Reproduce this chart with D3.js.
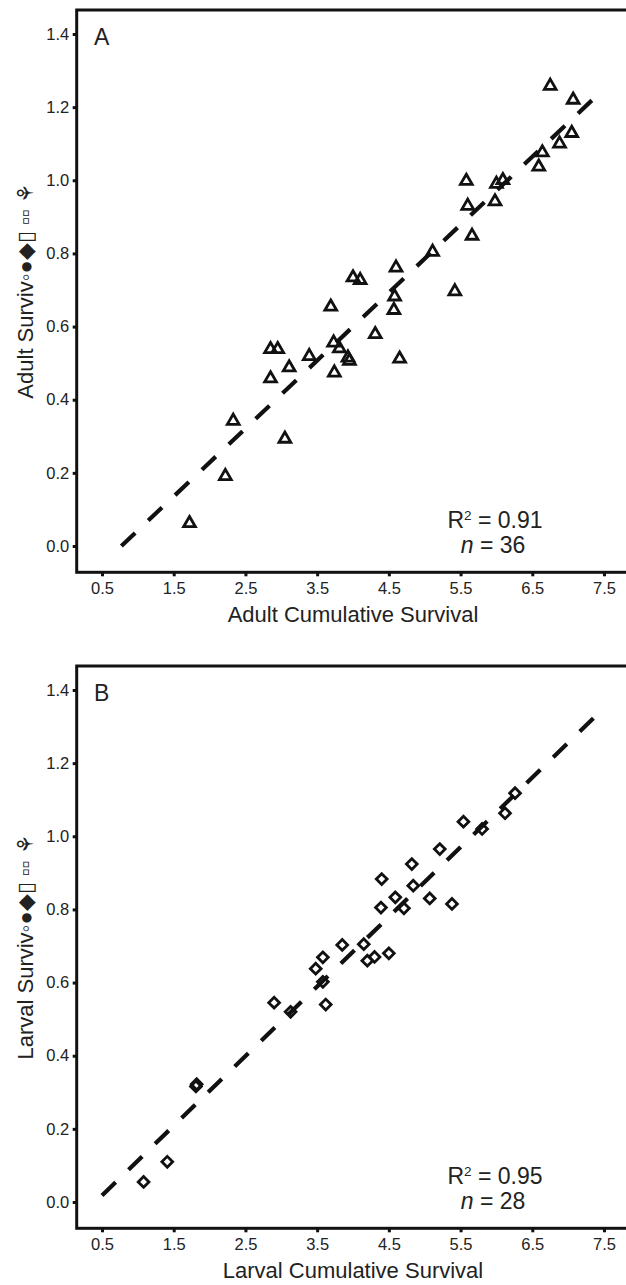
<!DOCTYPE html>
<html>
<head>
<meta charset="utf-8">
<script src="https://cdn.jsdelivr.net/npm/d3@7"></script>
<style>
  body { margin: 0; background: #fff; }
  svg { display: block; font-family: "Liberation Sans", Arial, sans-serif; }
</style>
</head>
<body>
<svg id="fig" width="626" height="1285"></svg>
<script>
// Axis ticks shared by both panels
const xTickValues = [0.5, 1.5, 2.5, 3.5, 4.5, 5.5, 6.5, 7.5];
const yTickValues = [0.0, 0.2, 0.4, 0.6, 0.8, 1.0, 1.2, 1.4];

// Panel A: adults
const adultCumulative = [1.72, 2.22, 2.33, 3.05, 2.85, 2.85, 2.95, 3.11, 3.39, 3.69,
                         3.73, 3.74, 3.81, 3.93, 3.95, 4.00, 4.10, 4.31, 4.60, 4.58,
                         4.57, 4.65, 5.11, 5.42, 5.58, 5.60, 5.66, 5.98, 6.00, 6.09,
                         6.59, 6.64, 6.88, 7.05, 7.07, 6.75];
const adultSurvival   = [0.062, 0.191, 0.342, 0.293, 0.458, 0.538, 0.538, 0.488, 0.519, 0.654,
                         0.556, 0.474, 0.540, 0.515, 0.506, 0.734, 0.727, 0.579, 0.761, 0.682,
                         0.645, 0.512, 0.804, 0.696, 0.998, 0.930, 0.848, 0.942, 0.990, 1.000,
                         1.037, 1.076, 1.100, 1.129, 1.220, 1.258];
const adultFitX = [0.77, 7.50];
const adultFitY = [0.00, 1.25];
const adultStats = ["0.91", "36"];

// Panel B: larvae
const larvalCumulative = [1.08, 1.41, 1.81, 1.82, 2.90, 3.13, 3.62, 3.58, 3.48, 3.58,
                          3.85, 4.15, 4.20, 4.30, 4.50, 4.39, 4.71, 5.07, 5.38, 4.59,
                          4.84, 4.40, 4.82, 5.21, 5.80, 5.54, 6.12, 6.26];
const larvalSurvival   = [0.055, 0.110, 0.316, 0.322, 0.545, 0.520, 0.540, 0.602, 0.638, 0.669,
                          0.703, 0.705, 0.660, 0.670, 0.680, 0.805, 0.803, 0.830, 0.815, 0.833,
                          0.865, 0.883, 0.924, 0.965, 1.020, 1.040, 1.063, 1.118];
const larvalFitX = [0.50, 7.52];
const larvalFitY = [0.018, 1.355];
const larvalStats = ["0.95", "28"];

const svg = d3.select("#fig");
const fmt = d3.format(".1f");

function drawPanel(opts) {
  const top = opts.top;
  const frame = { left: 76.7, top: top + 10, right: 680, bottom: top + 572.3 };

  const x = d3.scaleLinear().domain([0.5, 7.5]).range([102, 604]);
  const y = d3.scaleLinear().domain([0, 1.4]).range([top + 546, top + 34]);

  const g = svg.append("g");

  // x axis ticks and labels
  const xAxis = d3.axisBottom(x).tickValues(xTickValues).tickFormat(fmt)
    .tickSize(4).tickPadding(5.5);
  const gx = g.append("g").attr("transform", `translate(0,${frame.bottom})`).call(xAxis);
  gx.select(".domain").remove();
  gx.selectAll(".tick line").attr("stroke", "#111").attr("stroke-width", 3);
  gx.selectAll(".tick text").attr("font-size", 16.5).attr("fill", "#222")
    .attr("font-family", "Liberation Sans, Arial, sans-serif");

  // y axis ticks and labels
  const yAxis = d3.axisLeft(y).tickValues(yTickValues).tickFormat(fmt)
    .tickSize(4).tickPadding(3.5);
  const gy = g.append("g").attr("transform", `translate(${frame.left},0)`).call(yAxis);
  gy.select(".domain").remove();
  gy.selectAll(".tick line").attr("stroke", "#111").attr("stroke-width", 3);
  gy.selectAll(".tick text").attr("font-size", 16.5).attr("fill", "#222")
    .attr("font-family", "Liberation Sans, Arial, sans-serif");

  // plot frame
  g.append("rect")
    .attr("x", frame.left).attr("y", frame.top)
    .attr("width", frame.right - frame.left).attr("height", frame.bottom - frame.top)
    .attr("fill", "none").attr("stroke", "#111").attr("stroke-width", 3);

  // fitted line
  const fit = d3.line().x(d => x(d[0])).y(d => y(d[1]));
  g.append("path")
    .datum(d3.zip(opts.fitX, opts.fitY))
    .attr("d", fit)
    .attr("fill", "none").attr("stroke", "#111")
    .attr("stroke-width", 4.2).attr("stroke-dasharray", "19,18");

  // points
  const pts = d3.zip(opts.xs, opts.ys);
  if (opts.shape === "triangle") {
    const tri = d3.symbol().type(d3.symbolTriangle).size(60);
    g.selectAll("path.pt").data(pts).join("path")
      .attr("class", "pt")
      .attr("d", tri)
      .attr("transform", d => `translate(${x(d[0])},${y(d[1])})`)
      .attr("fill", "none").attr("stroke", "#111").attr("stroke-width", 2.8);
  } else {
    const sq = d3.symbol().type(d3.symbolSquare).size(58);
    g.selectAll("path.pt").data(pts).join("path")
      .attr("class", "pt")
      .attr("d", sq)
      .attr("transform", d => `translate(${x(d[0])},${y(d[1])}) rotate(45)`)
      .attr("fill", "none").attr("stroke", "#111").attr("stroke-width", 2.8);
  }

  // panel letter
  g.append("text").attr("x", 94).attr("y", top + 45)
    .attr("font-size", 23).attr("fill", "#222").text(opts.letter);

  // fit statistics
  const s1 = g.append("text").attr("x", 495).attr("y", top + 528)
    .attr("text-anchor", "middle").attr("font-size", 23).attr("fill", "#222");
  s1.append("tspan").text("R");
  s1.append("tspan").attr("dy", -8).attr("font-size", 13.5).text("2");
  s1.append("tspan").attr("dy", 8).text(" = " + opts.stats[0]);
  const s2 = g.append("text").attr("x", 493).attr("y", top + 552.7)
    .attr("text-anchor", "middle").attr("font-size", 23).attr("fill", "#222");
  s2.append("tspan").attr("font-style", "italic").text("n");
  s2.append("tspan").text(" = " + opts.stats[1]);

  // axis titles
  g.append("text").attr("x", 353).attr("y", top + 622)
    .attr("text-anchor", "middle").attr("font-size", 22).attr("fill", "#222")
    .text(opts.xTitle);
  g.append("text")
    .attr("transform", `translate(33,${top + 291}) rotate(-90)`)
    .attr("text-anchor", "middle").attr("font-size", 22).attr("fill", "#222")
    .text(opts.yTitle);
}

drawPanel({
  top: 0, letter: "A", shape: "triangle",
  xs: adultCumulative, ys: adultSurvival,
  fitX: adultFitX, fitY: adultFitY, stats: adultStats,
  xTitle: "Adult Cumulative Survival",
  yTitle: "Adult Surviv\u25E6\u25CF\u25C6\u25AF \u25AB\u25AB \u2698"
});

drawPanel({
  top: 656, letter: "B", shape: "diamond",
  xs: larvalCumulative, ys: larvalSurvival,
  fitX: larvalFitX, fitY: larvalFitY, stats: larvalStats,
  xTitle: "Larval Cumulative Survival",
  yTitle: "Larval Surviv\u25E6\u25CF\u25C6\u25AF \u25AB\u25AB \u2698"
});
</script>
</body>
</html>
